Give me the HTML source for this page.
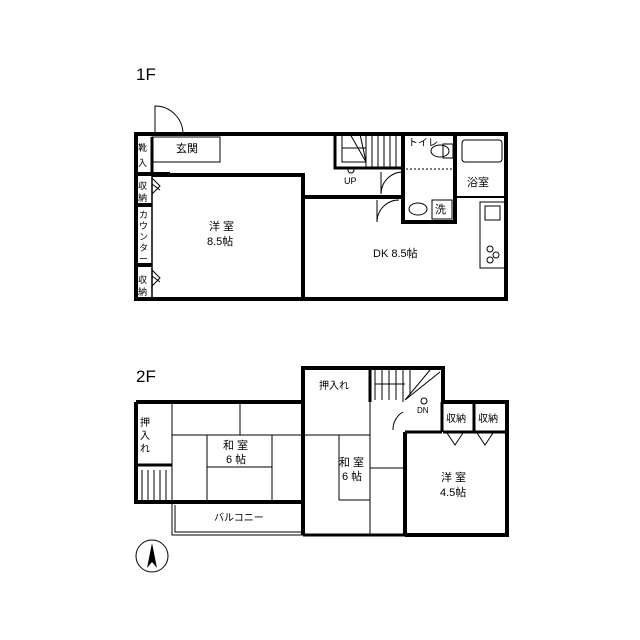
<!DOCTYPE html><html><head><meta charset="utf-8"><style>body{margin:0;background:#fff}svg{display:block}text{font-family:"Liberation Sans","Noto Sans CJK JP",sans-serif;fill:#000}</style></head><body>
<svg width="640" height="640" viewBox="0 0 640 640">
<rect width="640" height="640" fill="#fff"/>
<text x="136" y="80" font-size="17">1F</text>
<text x="136" y="382" font-size="17">2F</text>
<g fill="none" stroke="#000">
<rect x="136" y="134" width="370" height="165" stroke-width="4"/>
<path d="M155 134 V106 A28 28 0 0 1 183 134" stroke-width="1"/>
<rect x="152" y="137" width="68" height="25" stroke-width="1"/>
<line x1="152" y1="137" x2="152" y2="174" stroke-width="3"/>
<line x1="136" y1="174" x2="170" y2="174" stroke-width="4"/>
<line x1="136" y1="205" x2="152" y2="205" stroke-width="4"/>
<line x1="136" y1="265" x2="152" y2="265" stroke-width="4"/>
<line x1="152" y1="174" x2="152" y2="299" stroke-width="1.5"/>
<path d="M152 178 L160 186 L152 194 M152 184 L160 190 M152 270 L160 278 L152 286 M152 276 L160 282" stroke-width="1"/>
<path d="M152 175 H303 V299" stroke-width="4"/>
<path d="M303 197 H403" stroke-width="4"/>
<path d="M335 134 V168 H403" stroke-width="3"/>
<path d="M342 134 V162 H366 M366 134 V168 M372 134V168 M378 134V168 M384 134V168 M390 134V168 M396 134V168 M342 148 H366 M350 134 L366 162 M360 134 L366 162" stroke-width="1"/>
<circle cx="351" cy="170" r="3" stroke-width="1"/>
<path d="M403 134 V222 H455 V134" stroke-width="4"/>
<path d="M455 197 H506" stroke-width="2"/>
<rect x="462" y="140" width="40" height="22" rx="3" stroke-width="1"/>
<ellipse cx="440" cy="151" rx="9" ry="6" stroke-width="1"/>
<rect x="443" y="144" width="10" height="14" stroke-width="1"/>
<line x1="406" y1="169" x2="452" y2="169" stroke-width="1" stroke-dasharray="2 2"/>
<ellipse cx="418" cy="209" rx="9" ry="6" stroke-width="1"/>
<rect x="432" y="200" width="20" height="19" stroke-width="1"/>
<path d="M403 172 A22 22 0 0 0 381 194 M381 172 V194 M399 200 A22 22 0 0 0 377 222 M377 200V222" stroke-width="1"/>
<rect x="480" y="202" width="25" height="66" stroke-width="1"/>
<rect x="485" y="206" width="15" height="14" stroke-width="1"/>
<circle cx="490" cy="249" r="3" stroke-width="1"/><circle cx="496" cy="255" r="3" stroke-width="1"/><circle cx="490" cy="260" r="3" stroke-width="1"/>
<path d="M136 402 H303 V368 H443 V402 H507 V535 H405 M405 432 V535 M303 535 V402 M303 502 H136 V402" stroke-width="4"/>
<path d="M370 368 V402" stroke-width="3"/>
<path d="M303 535 H405" stroke-width="3"/>
<path d="M136 465 H172" stroke-width="3"/>
<path d="M172 402 V502 M172 502 V535 H303 M175 505 V532 H303" stroke-width="1"/>
<path d="M142 470 V502 M148 470V502 M154 470V502 M160 470V502 M166 470V502" stroke-width="1"/>
<path d="M172 435 H303 M207 435 V501 M272 435 V501 M207 467 H272 M240 402 V435" stroke-width="1"/>
<path d="M303 435 H370 M339 435 V500 M370 402 V535 M370 468 H403 M339 500 H370" stroke-width="1"/>
<path d="M375 370 V400 M382 370V400 M389 370V400 M396 370V400 M403 370V402 M410 370V395 M375 384 H405 M405 400 L440 372 M405 400 L430 370" stroke-width="1"/>
<path d="M405 432 H442 M442 402 V432 M474 402 V432 M443 432 H507" stroke-width="3"/>
<circle cx="424" cy="401" r="3" stroke-width="1"/>
<path d="M447 433 L455 445 L463 433 M477 433 L485 445 L493 433" stroke-width="1"/>
<path d="M403 412 A20 20 0 0 0 393 430" stroke-width="1"/>
<circle cx="152" cy="556" r="16" stroke-width="1"/>
</g>
<path d="M152 543 L147 568 L152 562 L157 568 Z" fill="#000"/>
<g font-size="11">
<text x="176" y="152">玄関</text>
<text x="138" y="151" font-size="9">靴</text><text x="138" y="166" font-size="9">入</text>
<text x="138" y="189" font-size="9">収</text><text x="138" y="201" font-size="9">納</text>
<text x="138" y="283" font-size="9">収</text><text x="138" y="295" font-size="9">納</text>
<text x="139" y="218" font-size="9">カ</text><text x="139" y="229" font-size="9">ウ</text><text x="139" y="240" font-size="9">ン</text><text x="139" y="251" font-size="9">タ</text><text x="139" y="262" font-size="9">ー</text>
<text x="209" y="230">洋 室</text><text x="207" y="245">8.5帖</text>
<text x="373" y="257">DK 8.5帖</text>
<text x="344" y="184" font-size="9">UP</text>
<text x="408" y="146" font-size="10">トイレ</text>
<text x="467" y="186">浴室</text>
<text x="435" y="213">洗</text>
<text x="140" y="426" font-size="10">押</text><text x="140" y="439" font-size="10">入</text><text x="140" y="452" font-size="10">れ</text>
<text x="319" y="389" font-size="10">押入れ</text>
<text x="223" y="449">和 室</text><text x="226" y="463">6 帖</text>
<text x="339" y="466">和 室</text><text x="342" y="480">6 帖</text>
<text x="441" y="481">洋 室</text><text x="440" y="496">4.5帖</text>
<text x="446" y="422" font-size="10">収納</text><text x="478" y="422" font-size="10">収納</text>
<text x="214" y="521" font-size="10">バルコニー</text>
<text x="417" y="413" font-size="8">DN</text>
</g>
</svg></body></html>
